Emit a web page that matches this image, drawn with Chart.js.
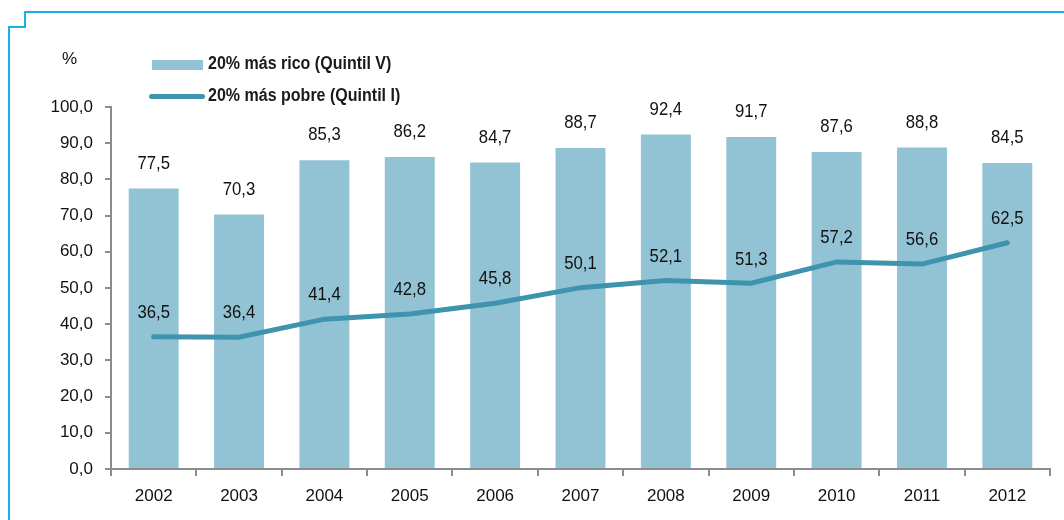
<!DOCTYPE html>
<html lang="es">
<head>
  <meta charset="UTF-8">
  <title>Quintil V vs Quintil I</title>
  <script src="https://cdn.jsdelivr.net/npm/chart.js"></script>
  <style>
    body { margin: 0; background: #fff; font-family: "Liberation Sans Narrow", "Liberation Sans", Arial, sans-serif; }
    #wrap { position: relative; width: 1064px; height: 520px; }
    .frame { position: absolute; background: #1ab0e8; }
    .txt { position: absolute; font-size: 17px; color: #111; white-space: nowrap; }
    .leg { font-size: 18px; font-weight: bold; color: #1a1a1a; transform: scaleX(0.89); transform-origin: left center; }
    .sw { position: absolute; }
  </style>
</head>
<body>
<div id="wrap">
  <canvas id="chart" width="1064" height="520"></canvas>
  <div class="frame" style="left:24px;top:11px;width:1040px;height:2px"></div>
  <div class="frame" style="left:24px;top:11px;width:2px;height:17px"></div>
  <div class="frame" style="left:8px;top:26px;width:18px;height:2px"></div>
  <div class="frame" style="left:8px;top:26px;width:2px;height:494px"></div>
  <div class="txt" style="left:62px;top:49px">%</div>
  <div class="sw" style="left:152px;top:60px;width:51px;height:10px;background:#92c3d4"></div>
  <div class="txt leg" style="left:208px;top:53px">20% más rico (Quintil V)</div>
  <div class="sw" style="left:149px;top:94px;width:56px;height:5px;border-radius:3px;background:#3d94ac"></div>
  <div class="txt leg" style="left:208px;top:85px">20% más pobre (Quintil I)</div>
</div>
<script>
  const years = ['2002', '2003', '2004', '2005', '2006', '2007', '2008', '2009', '2010', '2011', '2012'];
  const richest = [77.5, 70.3, 85.3, 86.2, 84.7, 88.7, 92.4, 91.7, 87.6, 88.8, 84.5];
  const poorest = [36.5, 36.4, 41.4, 42.8, 45.8, 50.1, 52.1, 51.3, 57.2, 56.6, 62.5];

  const fontFamily = '"Liberation Sans Narrow", "Liberation Sans", Arial, sans-serif';
  const fmt = v => v.toFixed(1).replace('.', ',');

  // dataset 0 = line (poorest), dataset 1 = bars (richest)
  const valueLabels = {
    id: 'valueLabels',
    afterDatasetsDraw(chart) {
      const ctx = chart.ctx;
      const put = (text, x, y) => {
        ctx.save();
        ctx.translate(x, y);
        ctx.scale(0.88, 1);
        ctx.fillText(text, 0, 0);
        ctx.restore();
      };
      ctx.save();
      ctx.font = '19px ' + fontFamily;
      ctx.fillStyle = '#111';
      ctx.textAlign = 'center';
      ctx.textBaseline = 'middle';
      chart.getDatasetMeta(1).data.forEach((bar, i) => {
        put(fmt(richest[i]), bar.x, bar.y - 25);
      });
      chart.getDatasetMeta(0).data.forEach((pt, i) => {
        put(fmt(poorest[i]), pt.x, pt.y - 24);
      });
      ctx.restore();
    }
  };

  new Chart(document.getElementById('chart').getContext('2d'), {
    data: {
      labels: years,
      datasets: [
        {
          type: 'line',
          label: '20% más pobre (Quintil I)',
          data: poorest,
          borderColor: '#3d94ac',
          borderWidth: 5,
          borderCapStyle: 'round',
          pointRadius: 0,
          tension: 0,
          order: 0
        },
        {
          type: 'bar',
          label: '20% más rico (Quintil V)',
          data: richest,
          backgroundColor: '#92c3d4',
          categoryPercentage: 1,
          barPercentage: 0.585,
          order: 1
        }
      ]
    },
    options: {
      responsive: false,
      animation: false,
      layout: { padding: { top: 107, right: 14, left: 0, bottom: 0 } },
      plugins: { legend: { display: false }, tooltip: { enabled: false } },
      scales: {
        x: {
          offset: true,
          grid: { offset: true, drawOnChartArea: false, drawTicks: true, tickLength: 7, color: '#8c8c8c', lineWidth: 2 },
          border: { color: '#8c8c8c', width: 2 },
          ticks: { font: { family: fontFamily, size: 17 }, color: '#111', padding: 10 },
          afterFit: s => { s.height = 51; }
        },
        y: {
          min: 0,
          max: 100,
          ticks: { stepSize: 10, callback: v => fmt(v), font: { family: fontFamily, size: 17 }, color: '#111', padding: 12 },
          grid: { drawOnChartArea: false, drawTicks: true, tickLength: 6, color: '#8c8c8c', lineWidth: 2 },
          border: { color: '#8c8c8c', width: 2 },
          afterFit: s => { s.width = 111; }
        }
      }
    },
    plugins: [valueLabels]
  });
</script>
</body>
</html>
